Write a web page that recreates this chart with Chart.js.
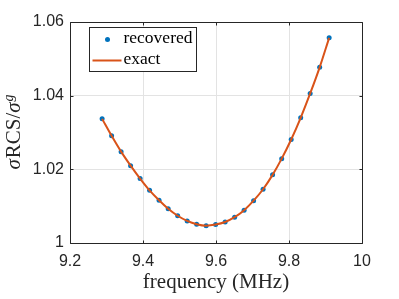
<!DOCTYPE html>
<html>
<head>
<meta charset="utf-8">
<script src="https://cdn.jsdelivr.net/npm/chart.js@4.4.1/dist/chart.umd.min.js"></script>
<style>
  html, body { margin: 0; padding: 0; background: #fff; }
  #wrap { width: 399px; height: 299px; position: relative; }
</style>
</head>
<body>
<div id="wrap"><canvas id="rcs"></canvas></div>
<script>
// values
const freq = [9.288, 9.314, 9.340, 9.366, 9.392, 9.418, 9.444, 9.469, 9.495, 9.521,
              9.547, 9.573, 9.599, 9.625, 9.651, 9.677, 9.703, 9.729, 9.755, 9.780,
              9.806, 9.832, 9.858, 9.884, 9.910];
const recovered = [1.0337, 1.0291, 1.0248, 1.0210, 1.0175, 1.0143, 1.0116, 1.0093, 1.0074, 1.0060,
                   1.0051, 1.0047, 1.0050, 1.0057, 1.0070, 1.0089, 1.0115, 1.0146, 1.0185, 1.0229,
                   1.0281, 1.0340, 1.0406, 1.0477, 1.0557];
const exact = [1.0337, 1.0291, 1.0248, 1.0210, 1.0175, 1.0143, 1.0116, 1.0093, 1.0074, 1.0060,
               1.0051, 1.0047, 1.0050, 1.0057, 1.0070, 1.0089, 1.0115, 1.0146, 1.0185, 1.0229,
               1.0281, 1.0340, 1.0406, 1.0477, 1.0557];
const xTicks = [9.2, 9.4, 9.6, 9.8, 10];
const yTicks = [1, 1.02, 1.04, 1.06];
const seriesNames = ['recovered', 'exact'];
const xLabel = 'frequency (MHz)';

const blue = '#0072BD';
const orange = '#D95319';
const axisColor = '#262626';

const fmt = v => String(Math.round(v * 100) / 100);

// box, inward ticks, legend and axis titles drawn the matlab way
const frame = {
    id: 'frame',
    afterDatasetsDraw(chart) {
        const ctx = chart.ctx;
        const a = chart.chartArea;
        const x = chart.scales.x, y = chart.scales.y;
        const L = Math.round(a.left) + 0.5, R = Math.round(a.right) + 0.5;
        const T = Math.round(a.top) + 0.5, B = Math.round(a.bottom) + 0.5;

        ctx.save();
        ctx.strokeStyle = axisColor;
        ctx.lineWidth = 1;
        ctx.beginPath();
        ctx.rect(L, T, R - L, B - T);
        xTicks.forEach(v => {
            const px = Math.round(x.getPixelForValue(v)) + 0.5;
            ctx.moveTo(px, B); ctx.lineTo(px, B - 3);
            ctx.moveTo(px, T); ctx.lineTo(px, T + 3);
        });
        yTicks.forEach(v => {
            const py = Math.round(y.getPixelForValue(v)) + 0.5;
            ctx.moveTo(L, py); ctx.lineTo(L + 3, py);
            ctx.moveTo(R, py); ctx.lineTo(R - 3, py);
        });
        ctx.stroke();

        // legend
        const lx = L + 19, ly = T + 5, lw = 107, lh = 44;
        ctx.fillStyle = '#fff';
        ctx.fillRect(lx, ly, lw, lh);
        ctx.strokeStyle = axisColor;
        ctx.strokeRect(lx, ly, lw, lh);
        ctx.fillStyle = blue;
        ctx.beginPath();
        ctx.arc(lx + 18, ly + 12, 2.5, 0, Math.PI * 2);
        ctx.fill();
        ctx.strokeStyle = orange;
        ctx.lineWidth = 2;
        ctx.beginPath();
        ctx.moveTo(lx + 3, ly + 33);
        ctx.lineTo(lx + 32, ly + 33);
        ctx.stroke();
        ctx.fillStyle = '#000';
        ctx.font = '17.5px "Liberation Serif"';
        ctx.textBaseline = 'middle';
        ctx.textAlign = 'left';
        ctx.fillText(seriesNames[0], lx + 34, ly + 11);
        ctx.fillText(seriesNames[1], lx + 34, ly + 32);

        // x title
        ctx.font = '21px "Liberation Serif"';
        ctx.textAlign = 'center';
        ctx.textBaseline = 'alphabetic';
        ctx.fillStyle = axisColor;
        ctx.fillText(xLabel, (a.left + a.right) / 2, 288);

        // y title: sigma RCS / sigma g
        const parts = [
            { t: '\u03C3', f: 'italic 21px "Liberation Serif"', dy: 0, gap: 1 },
            { t: 'RCS', f: '21px "Liberation Serif"', dy: 0, gap: 0 },
            { t: '/', f: '21px "Liberation Serif"', dy: 0, gap: 0 },
            { t: '\u03C3', f: 'italic 21px "Liberation Serif"', dy: 0, gap: 1 },
            { t: 'g', f: 'italic 14px "Liberation Serif"', dy: -7, gap: 0 }
        ];
        let total = 0;
        parts.forEach(p => { ctx.font = p.f; p.w = ctx.measureText(p.t).width; total += p.w + p.gap; });
        ctx.translate(20, 132);
        ctx.rotate(-Math.PI / 2);
        ctx.textAlign = 'left';
        let cx = -total / 2;
        parts.forEach(p => {
            ctx.font = p.f;
            ctx.fillText(p.t, cx, p.dy);
            cx += p.w + p.gap;
        });
        ctx.restore();
    }
};

new Chart(document.getElementById('rcs'), {
    type: 'scatter',
    data: {
        datasets: [
            {
                label: seriesNames[0],
                data: freq.map((f, i) => ({ x: f, y: recovered[i] })),
                backgroundColor: blue,
                borderColor: blue,
                pointRadius: 2.5,
                borderWidth: 0,
                showLine: false,
                order: 1
            },
            {
                label: seriesNames[1],
                data: freq.map((f, i) => ({ x: f, y: exact[i] })),
                borderColor: orange,
                borderWidth: 2,
                pointRadius: 0,
                showLine: true,
                tension: 0.4,
                cubicInterpolationMode: 'monotone',
                order: 0
            }
        ]
    },
    options: {
        responsive: true,
        maintainAspectRatio: false,
        animation: false,
        layout: { padding: { top: 22, right: 37, left: 0, bottom: 0 } },
        plugins: { legend: { display: false }, tooltip: { enabled: false } },
        scales: {
            x: {
                type: 'linear',
                min: 9.2,
                max: 10,
                afterBuildTicks: s => { s.ticks = xTicks.map(v => ({ value: v })); },
                afterFit: s => { s.height = 56; },
                grid: { color: '#e3e3e3', drawTicks: false },
                border: { display: false },
                ticks: {
                    padding: 9,
                    color: axisColor,
                    font: { family: '"Liberation Sans"', size: 16 },
                    maxRotation: 0,
                    callback: v => fmt(v)
                }
            },
            y: {
                type: 'linear',
                min: 1,
                max: 1.06,
                afterBuildTicks: s => { s.ticks = yTicks.map(v => ({ value: v })); },
                afterFit: s => { s.width = 70; },
                grid: { color: '#e3e3e3', drawTicks: false },
                border: { display: false },
                ticks: {
                    padding: 6,
                    color: axisColor,
                    font: { family: '"Liberation Sans"', size: 16 },
                    callback: v => fmt(v)
                }
            }
        }
    },
    plugins: [frame]
});
</script>
</body>
</html>
